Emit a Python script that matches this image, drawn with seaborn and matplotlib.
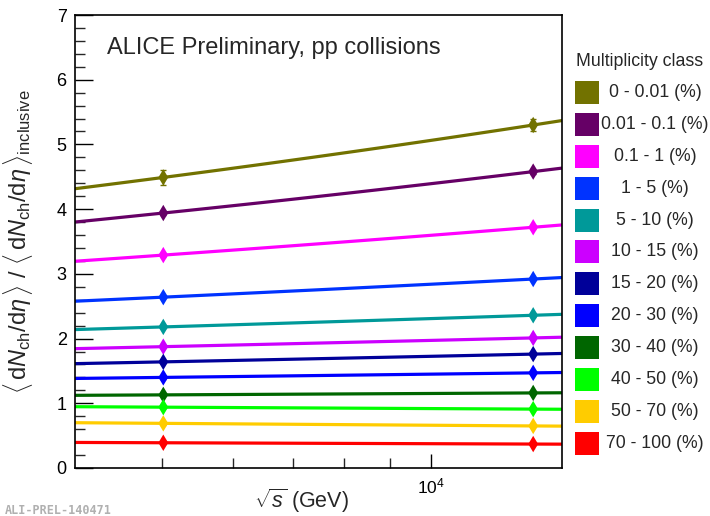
import numpy as np
import pandas as pd
import seaborn as sns
import matplotlib
matplotlib.use("Agg")
import matplotlib.pyplot as plt
from matplotlib.patches import Rectangle

# data
energies = [5020, 13000]  # GeV
classes = ["0 - 0.01 (%)", "0.01 - 0.1 (%)", "0.1 - 1 (%)", "1 - 5 (%)",
           "5 - 10 (%)", "10 - 15 (%)", "15 - 20 (%)", "20 - 30 (%)",
           "30 - 40 (%)", "40 - 50 (%)", "50 - 70 (%)", "70 - 100 (%)"]
ratio_5tev = [4.49, 3.94, 3.29, 2.64, 2.18, 1.875, 1.64, 1.40, 1.13, 0.94, 0.69, 0.39]
ratio_13tev = [5.30, 4.58, 3.72, 2.92, 2.36, 2.01, 1.76, 1.47, 1.16, 0.91, 0.65, 0.37]
err_5tev = [0.11, 0.03, 0.03, 0.02, 0.02, 0.02, 0.02, 0.02, 0.02, 0.02, 0.02, 0.02]
err_13tev = [0.09, 0.03, 0.03, 0.02, 0.02, 0.02, 0.02, 0.02, 0.02, 0.02, 0.02, 0.02]
colors = ["#727200", "#660066", "#ff00ff", "#0033ff", "#009999", "#cc00ff",
          "#000099", "#0000ff", "#006600", "#00ff00", "#ffcc00", "#ff0000"]

sns.set_theme(style="white")
plt.rcParams['font.family'] = ['Liberation Sans', 'DejaVu Sans']
plt.rcParams['mathtext.fontset'] = 'custom'
plt.rcParams['mathtext.rm'] = 'Liberation Sans'
plt.rcParams['mathtext.it'] = 'Liberation Sans:italic'

points = pd.DataFrame({
    "class": np.repeat(classes, 2),
    "energy": energies * len(classes),
    "ratio": np.ravel(np.column_stack([ratio_5tev, ratio_13tev])),
    "err": np.ravel(np.column_stack([err_5tev, err_13tev])),
})

# power-law fit through both energies, drawn over the whole x range
xfit = np.geomspace(4000, 14000, 60)
fit_rows = []
for c, y1, y2 in zip(classes, ratio_5tev, ratio_13tev):
    b = np.log(y2 / y1) / np.log(energies[1] / energies[0])
    yfit = y1 * (xfit / energies[0]) ** b
    fit_rows.append(pd.DataFrame({"class": c, "energy": xfit, "ratio": yfit}))
fits = pd.concat(fit_rows)

palette = dict(zip(classes, colors))

fig = plt.figure(figsize=(7.1, 5.16), dpi=100)
ax = fig.add_axes([75 / 710, 1 - 468 / 516, 487 / 710, 453 / 516])

sns.lineplot(data=fits, x="energy", y="ratio", hue="class", palette=palette,
             lw=2.3, legend=False, ax=ax, zorder=2)
for c, col in zip(classes, colors):
    sub = points[points["class"] == c]
    ax.errorbar(sub["energy"], sub["ratio"], yerr=sub["err"], fmt="none",
                ecolor=col, elinewidth=1, capsize=2, zorder=3)
sns.scatterplot(data=points, x="energy", y="ratio", hue="class", palette=palette,
                marker="d", s=70, edgecolor="none", legend=False, ax=ax, zorder=4)

ax.set_xscale("log")
ax.set_xlim(4000, 14000)
ax.set_ylim(0, 7)
ax.set_xticks([10000])
ax.set_xticklabels([r"$10^4$"])
ax.set_xticks([5000, 6000, 7000, 8000, 9000], minor=True)
ax.xaxis.set_minor_formatter(matplotlib.ticker.NullFormatter())
ax.set_yticks(range(0, 8))
ax.set_yticks(np.arange(0, 7.01, 0.2), minor=True)
ax.tick_params(axis="both", which="major", direction="in", length=13, width=1,
               labelsize=13, colors="black", pad=6)
ax.tick_params(axis="both", which="minor", direction="in", length=7, width=1)
ax.tick_params(axis="x", which="minor", length=7)
ax.tick_params(axis="x", which="major", length=10, labelsize=12.5)
ax.tick_params(bottom=True, left=True, which="both")
for s in ax.spines.values():
    s.set_color("black")
    s.set_linewidth(1.2)

ax.set_xlabel(r"$\sqrt{s}$ (GeV)", fontsize=15.5)
ax.xaxis.set_label_coords(0.465, -0.042)
ax.set_ylabel(r"$\langle\,\mathrm{d}N_{\mathrm{ch}}/\mathrm{d}\eta\,\rangle\ /\ "
              r"\langle\,\mathrm{d}N_{\mathrm{ch}}/\mathrm{d}\eta\,\rangle_{\mathrm{inclusive}}$",
              fontsize=17)
ax.yaxis.set_label_coords(-0.082, 0.5)

ax.text(0.066, 0.928, "ALICE Preliminary, pp collisions", transform=ax.transAxes,
        fontsize=17, va="center", ha="left")

# legend drawn ROOT-style: square boxes with centred labels
fig.text(640 / 710, 1 - 62 / 516, "Multiplicity class", ha="center", va="center",
         fontsize=12.8)
for i, (c, col) in enumerate(zip(classes, colors)):
    yc = 92.7 + i * 31.85
    fig.add_artist(Rectangle((575 / 710, 1 - (yc + 11.5) / 516), 24 / 710, 23 / 516,
                             transform=fig.transFigure, facecolor=col,
                             edgecolor="none"))
    fig.text(655 / 710, 1 - yc / 516, c, ha="center", va="center", fontsize=12.7)

fig.text(5 / 710, 1 - 510 / 516, "ALI-PREL-140471", family="DejaVu Sans Mono",
         weight="bold", color="#b0b0b0", fontsize=8.5, ha="left", va="center")

fig.savefig("out.png", dpi=100)
